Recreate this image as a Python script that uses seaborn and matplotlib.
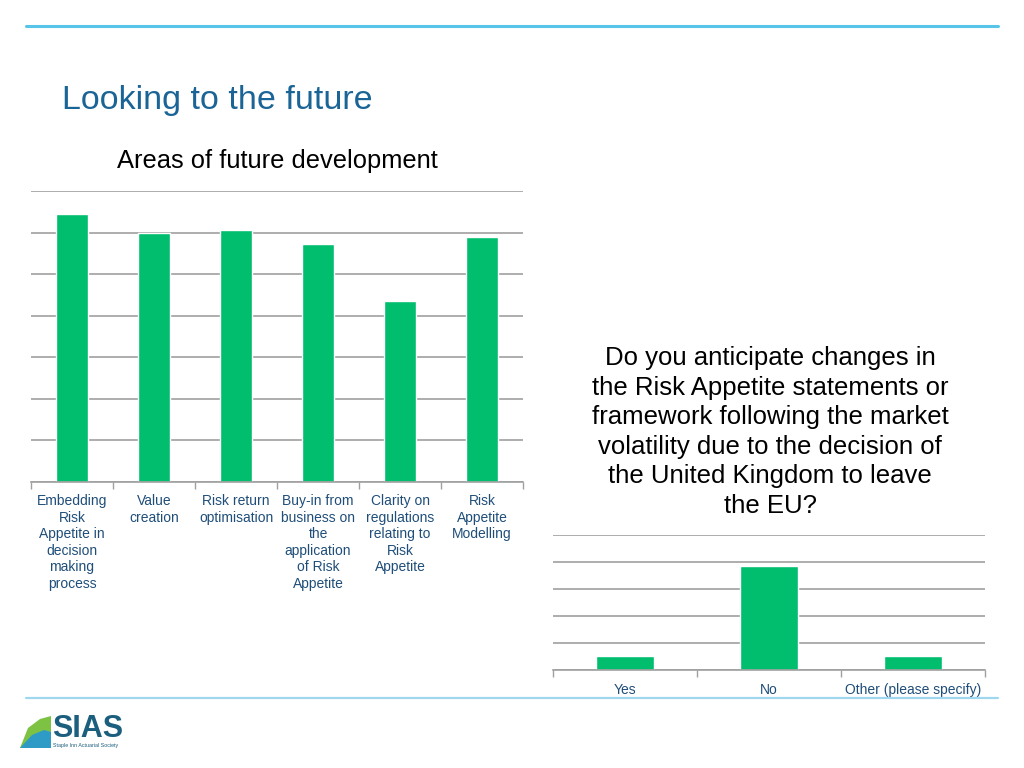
import pandas as pd
import matplotlib.pyplot as plt
import matplotlib.lines as mlines
import matplotlib.patches as mpatches
import seaborn as sns

# --- datos ---
areas = ["Embedding\nRisk\nAppetite in\ndecision\nmaking\nprocess",
         "Value\ncreation",
         "Risk return\noptimisation",
         "Buy-in from\nbusiness on\nthe\napplication\nof Risk\nAppetite",
         "Clarity on\nregulations\nrelating to\nRisk\nAppetite",
         "Risk\nAppetite\nModelling"]
areas_valores = [64.5, 60.0, 60.7, 57.2, 43.5, 58.9]

respuestas = ["Yes", "No", "Other (please specify)"]
respuestas_valores = [5.2, 38.5, 5.2]

titulo = "Looking to the future"
subtitulo = "Areas of future development"
pregunta = ("Do you anticipate changes in\nthe Risk Appetite statements or\n"
            "framework following the market\nvolatility due to the decision of\n"
            "the United Kingdom to leave\nthe EU?")

verde = "#00BE6E"
azul_texto = "#1F4E79"
gris = "#A0A0A0"

sns.set_theme(style="white")
plt.rcParams['font.family'] = ['Liberation Sans', 'DejaVu Sans']

fig = plt.figure(figsize=(10.24, 7.68), dpi=100)


def estilo(ax, n, ymax, paso):
    ax.set_ylim(0, ymax)
    ax.set_xlim(-0.5, n - 0.5)
    ax.set_yticks(range(0, ymax + 1, paso))
    ax.yaxis.grid(True, color=gris, linewidth=1.2)
    ax.set_axisbelow(True)
    ax.tick_params(axis='y', left=False, labelleft=False)
    ax.set_xticks([i - 0.5 for i in range(n + 1)], minor=True)
    ax.tick_params(axis='x', which='minor', bottom=True, length=5, width=1, color=gris)
    ax.tick_params(axis='x', which='major', bottom=False, length=0, pad=9,
                   labelsize=10, labelcolor=azul_texto)
    for lab in ax.get_xticklabels():
        lab.set_linespacing(1.22)
    for s in ['top', 'left', 'right']:
        ax.spines[s].set_visible(False)
    ax.spines['bottom'].set_color(gris)
    ax.spines['bottom'].set_linewidth(1.2)
    ax.set_xlabel("")
    ax.set_ylabel("")


# --- grafico 1 ---
df1 = pd.DataFrame({"area": areas, "valor": areas_valores})
ax1 = fig.add_axes([0.0303, 0.3724, 0.4805, 0.3789])
sns.barplot(data=df1, x="area", y="valor", color=verde, width=0.4,
            saturation=1, ax=ax1)
estilo(ax1, len(areas), 70, 10)

# --- grafico 2 ---
df2 = pd.DataFrame({"respuesta": respuestas, "valor": respuestas_valores})
ax2 = fig.add_axes([0.540, 0.1276, 0.422, 0.1758])
sns.barplot(data=df2, x="respuesta", y="valor", color=verde, width=0.4,
            saturation=1, ax=ax2)
estilo(ax2, len(respuestas), 50, 10)

# --- textos ---
fig.text(62 / 1024, 1 - 101 / 768, titulo, fontsize=24.5, color="#1A6496",
         ha="left", va="center")
fig.text(277 / 1024, 1 - 161 / 768, subtitulo, fontsize=18.4, color="black",
         ha="center", va="center")
fig.text(770 / 1024, 1 - 432 / 768, pregunta, fontsize=18.5, color="black",
         ha="center", va="center", linespacing=1.29)

# lineas decorativas
fig.add_artist(mlines.Line2D([26 / 1024, 998 / 1024], [1 - 26 / 768] * 2,
                             color="#56C5E8", linewidth=2.2))
fig.add_artist(mlines.Line2D([26 / 1024, 998 / 1024], [1 - 698 / 768] * 2,
                             color="#9ED7EE", linewidth=1.6))

# logo SIAS
fig.add_artist(mpatches.Polygon(
    [(20 / 1024, 1 - 748 / 768), (28 / 1024, 1 - 728 / 768), (40 / 1024, 1 - 719 / 768),
     (51 / 1024, 1 - 716 / 768), (51 / 1024, 1 - 748 / 768)],
    closed=True, transform=fig.transFigure, facecolor="#7DC243", edgecolor="none"))
fig.add_artist(mpatches.Polygon(
    [(20 / 1024, 1 - 748 / 768), (32 / 1024, 1 - 735 / 768), (44 / 1024, 1 - 730 / 768),
     (51 / 1024, 1 - 732 / 768), (51 / 1024, 1 - 748 / 768)],
    closed=True, transform=fig.transFigure, facecolor="#2E9BC6", edgecolor="none"))
fig.text(52 / 1024, 1 - 729 / 768, "SIAS", fontsize=22, fontweight="bold",
         color="#1B5E7E", ha="left", va="center")
fig.text(53 / 1024, 1 - 745 / 768, "Staple Inn Actuarial Society", fontsize=3.8,
         color="#1B5E7E", ha="left", va="center")

plt.savefig("out.png", dpi=100)
